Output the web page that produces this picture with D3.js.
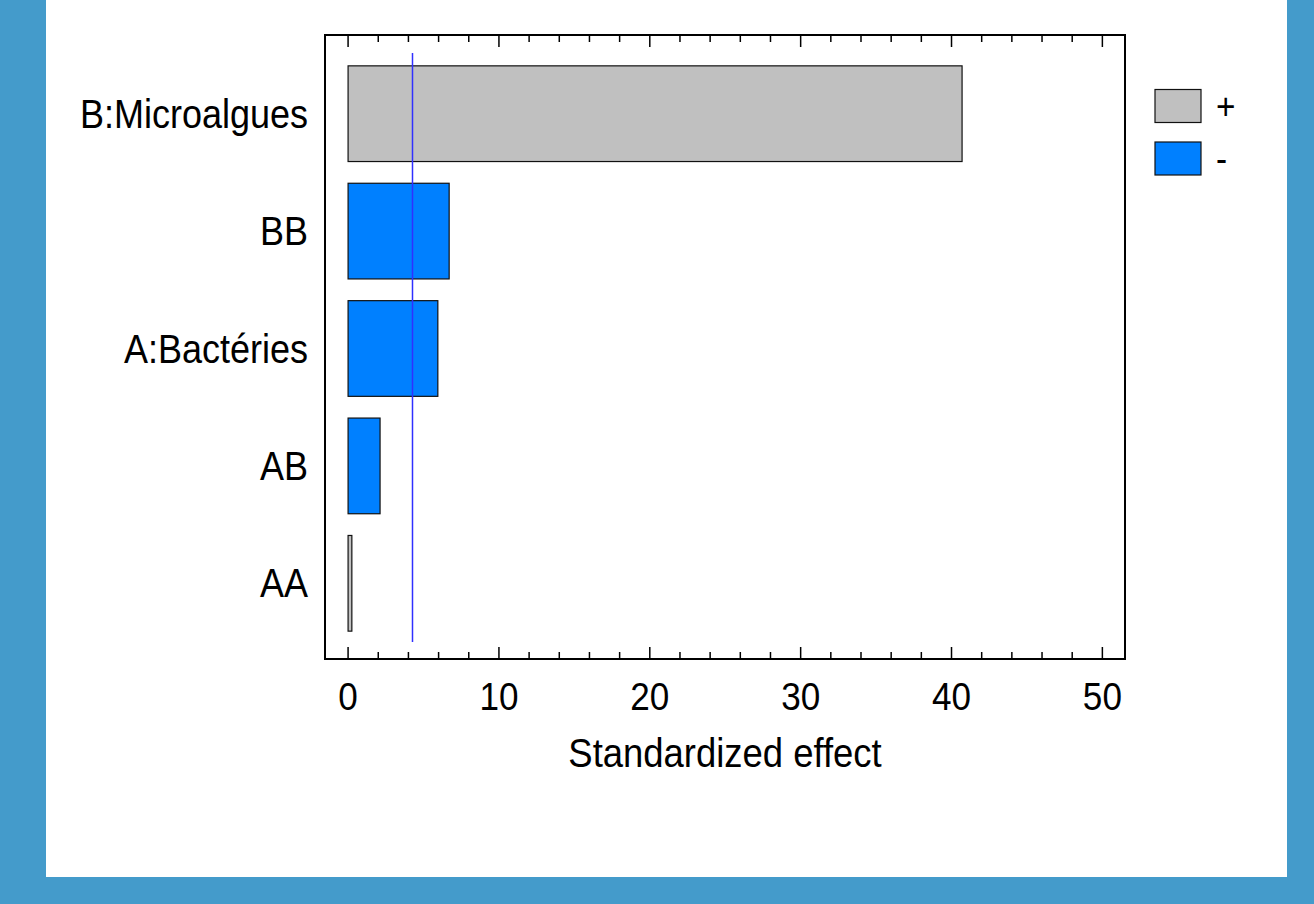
<!DOCTYPE html>
<html>
<head>
<meta charset="utf-8">
<script src="https://cdn.jsdelivr.net/npm/d3@7"></script>
<style>
  body { margin: 0; background: #449bcb; }
  text { font-family: "Liberation Sans", Arial, sans-serif; fill: #000; }
</style>
</head>
<body>
<script>
// Pareto chart data (standardized effects)
const categories = ["B:Microalgues", "BB", "A:Bactéries", "AB", "AA"];
const effects = [40.7, 6.7, 5.95, 2.12, 0.25];
const signs = ["+", "-", "-", "-", "+"];
const xTicks = [0, 10, 20, 30, 40, 50];
const critical = 4.27;
const legendItems = ["+", "-"];

const width = 1314, height = 904;
const plot = {left: 325, right: 1125, top: 35, bottom: 659};
const colors = {"+": "#c0c0c0", "-": "#0080ff"};

let svg = d3.select("body").append("svg")
        .attr("width", width)
        .attr("height", height)
        .style("display", "block");

svg.append("rect")
   .attr("width", width).attr("height", height)
   .attr("fill", "#449bcb");

svg.append("rect")
   .attr("x", 46).attr("y", 0)
   .attr("width", 1241).attr("height", 877)
   .attr("fill", "#fff");

let x = d3.scaleLinear().domain([-1.53, 51.5]).range([plot.left, plot.right]);
let y = d3.scaleBand().domain(categories)
          .range([plot.top + 1.5, plot.bottom + 1.5])
          .paddingInner(0.185).paddingOuter(0.25);

// bars
svg.append("g").selectAll("rect")
   .data(categories)
   .join("rect")
   .attr("x", x(0))
   .attr("y", d => y(d))
   .attr("width", (d, i) => x(effects[i]) - x(0))
   .attr("height", y.bandwidth())
   .attr("fill", (d, i) => colors[signs[i]])
   .attr("stroke", "#111")
   .attr("stroke-width", 1.2);

// critical value line
svg.append("line")
   .attr("x1", x(critical)).attr("x2", x(critical))
   .attr("y1", 53).attr("y2", 642)
   .attr("stroke", "#3030ff")
   .attr("stroke-width", 1.5);

// frame
svg.append("rect")
   .attr("x", plot.left).attr("y", plot.top)
   .attr("width", plot.right - plot.left)
   .attr("height", plot.bottom - plot.top)
   .attr("fill", "none")
   .attr("stroke", "#000")
   .attr("stroke-width", 2);

// ticks: major every 10, minor every 2, pointing inward top and bottom
let minor = d3.range(0, 51, 2).filter(v => v % 10 !== 0);
let tickG = svg.append("g").attr("stroke", "#000").attr("stroke-width", 1.5);
[[xTicks, 12], [minor, 7]].forEach(([vals, len]) => {
  tickG.selectAll(null).data(vals).join("line")
       .attr("x1", d => x(d)).attr("x2", d => x(d))
       .attr("y1", plot.bottom).attr("y2", plot.bottom - len);
  tickG.selectAll(null).data(vals).join("line")
       .attr("x1", d => x(d)).attr("x2", d => x(d))
       .attr("y1", plot.top).attr("y2", plot.top + len);
});

// condensed text helper
const squeeze = 0.9;
let label = function(tx, ty, str, anchor, size) {
  svg.append("g")
     .attr("transform", "translate(" + tx + "," + ty + ") scale(" + squeeze + ",1)")
     .append("text")
     .attr("text-anchor", anchor)
     .attr("font-size", size)
     .text(str);
};

xTicks.forEach(v => label(x(v), 710, v, "middle", 39));
categories.forEach(c => label(308, y(c) + y.bandwidth() / 2 + 14, c, "end", 40));
label((plot.left + plot.right) / 2, 767, "Standardized effect", "middle", 40.5);

// legend
legendItems.forEach((s, i) => {
  let ly = 89.5 + i * 52.5;
  svg.append("rect")
     .attr("x", 1155).attr("y", ly)
     .attr("width", 46).attr("height", 33)
     .attr("fill", colors[s])
     .attr("stroke", "#111")
     .attr("stroke-width", 1.2);
  label(1216, ly + 29, s, "start", 37);
});
</script>
</body>
</html>
